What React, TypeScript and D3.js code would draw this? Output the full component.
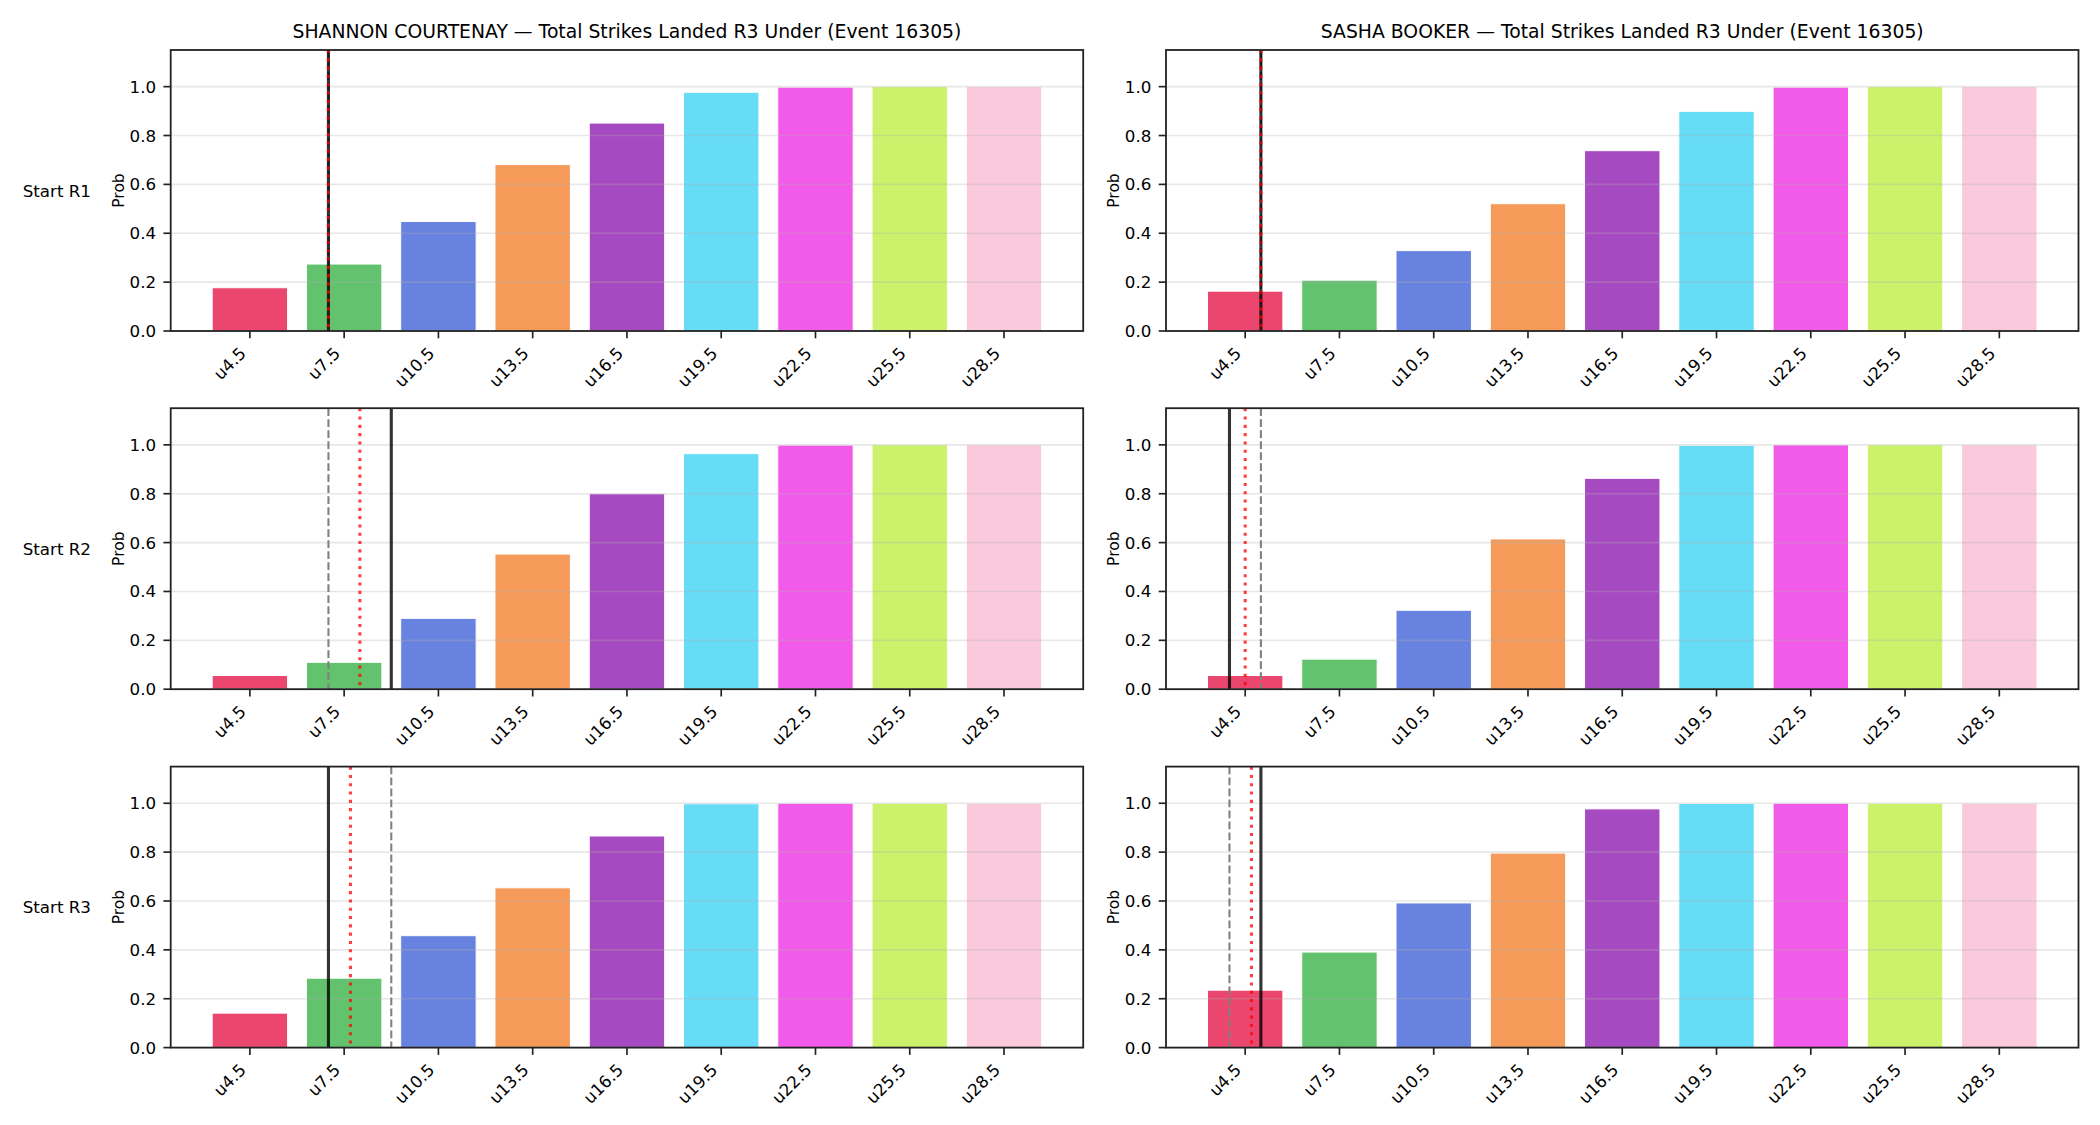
import * as d3 from 'd3';

// Under-line thresholds along the x axis
const thresholds = ['u4.5', 'u7.5', 'u10.5', 'u13.5', 'u16.5', 'u19.5', 'u22.5', 'u25.5', 'u28.5'];
const lineValues = [4.5, 7.5, 10.5, 13.5, 16.5, 19.5, 22.5, 25.5, 28.5];

const fighters = ['SHANNON COURTENAY', 'SASHA BOOKER'];
const startRounds = ['Start R1', 'Start R2', 'Start R3'];
const eventId = 16305;

// P(under) per threshold, one array per fighter / start round
const courtenayR1 = [0.177, 0.274, 0.448, 0.681, 0.851, 0.977, 0.998, 1.0, 1.0];
const courtenayR2 = [0.056, 0.11, 0.29, 0.553, 0.8, 0.964, 0.999, 1.0, 1.0];
const courtenayR3 = [0.141, 0.284, 0.458, 0.654, 0.866, 0.998, 1.0, 1.0, 1.0];
const bookerR1 = [0.163, 0.208, 0.329, 0.521, 0.738, 0.899, 0.998, 1.0, 1.0];
const bookerR2 = [0.056, 0.123, 0.323, 0.615, 0.863, 0.998, 1.0, 1.0, 1.0];
const bookerR3 = [0.235, 0.391, 0.592, 0.796, 0.977, 0.999, 1.0, 1.0, 1.0];

// Reference markers in strike units: [courtenay R1..R3], [booker R1..R3]
const solidMarks = [[7, 9, 7], [5, 4, 5]];
const dashedMarks = [[7, 7, 9], [5, 5, 4]];
const dottedMarks = [[7, 8, 7.7], [5, 4.5, 4.7]];

const yTicks = [0, 0.2, 0.4, 0.6, 0.8, 1.0];

const barColors = ['#e6194b', '#3cb44b', '#4363d8', '#f58231', '#911eb4', '#42d4f4', '#f032e6', '#bfef45', '#fabed4'];

const probs = [
  [courtenayR1, courtenayR2, courtenayR3],
  [bookerR1, bookerR2, bookerR3],
];

const W = 2100;
const H = 1125;
const colLeft = [170.7, 1166];
const rowTop = [50, 408.2, 766.6];
const axW = 912.5;
const axH = 281;
const font = 'DejaVu Sans, sans-serif';
const tickFs = 16.7;

function Panel({ col, row }: { col: number; row: number }) {
  const values = probs[col][row];
  const x = d3.scaleLinear().domain([-0.84, thresholds.length - 1 + 0.84]).range([0, axW]);
  const y = d3.scaleLinear().domain([0, 1.15]).range([axH, 0]);
  const toIndex = d3.scaleLinear().domain([lineValues[0], lineValues[lineValues.length - 1]]).range([0, thresholds.length - 1]);
  const barW = x(0.4) - x(-0.4);

  const solid = x(toIndex(solidMarks[col][row]));
  const dashed = x(toIndex(dashedMarks[col][row]));
  const dotted = x(toIndex(dottedMarks[col][row]));

  return (
    <g transform={`translate(${colLeft[col]},${rowTop[row]})`}>
      {values.map((v, i) => (
        <rect
          key={thresholds[i]}
          x={x(i) - barW / 2}
          y={y(v)}
          width={barW}
          height={axH - y(v)}
          fill={barColors[i]}
          stroke="#fff"
          strokeWidth={1}
          opacity={0.8}
        />
      ))}
      {yTicks.map((t) => (
        <line key={t} x1={0} x2={axW} y1={y(t)} y2={y(t)} stroke="#b0b0b0" strokeOpacity={0.3} strokeWidth={1.67} />
      ))}
      <line x1={dashed} x2={dashed} y1={0} y2={axH} stroke="#808080" strokeWidth={2.08} strokeDasharray="7.7 3.3" />
      <line x1={solid} x2={solid} y1={0} y2={axH} stroke="#000" strokeOpacity={0.8} strokeWidth={3.1} />
      <line x1={dotted} x2={dotted} y1={0} y2={axH} stroke="#ff0000" strokeOpacity={0.75} strokeWidth={3.1} strokeDasharray="3.1 5.2" />
      <rect x={0} y={0} width={axW} height={axH} fill="none" stroke="#222" strokeWidth={1.8} />
      {yTicks.map((t) => (
        <g key={t} transform={`translate(0,${y(t)})`}>
          <line x1={-7.3} x2={0} stroke="#222" strokeWidth={1.67} />
          <text x={-14.6} dominantBaseline="central" textAnchor="end" fontSize={tickFs} fontFamily={font} fill="#000">
            {d3.format('.1f')(t)}
          </text>
        </g>
      ))}
      {thresholds.map((label, i) => (
        <g key={label}>
          <line x1={x(i)} x2={x(i)} y1={axH} y2={axH + 7.3} stroke="#222" strokeWidth={1.67} />
          <text
            transform={`translate(${x(i) - 2.8},${axH + 23.5}) rotate(-45)`}
            textAnchor="end"
            fontSize={tickFs}
            fontFamily={font}
            fill="#000"
          >
            {label}
          </text>
        </g>
      ))}
      <text
        transform={`translate(${-47},${axH / 2}) rotate(-90)`}
        textAnchor="middle"
        fontSize={15.5}
        fontFamily={font}
        fill="#000"
      >
        Prob
      </text>
      {row === 0 && (
        <text x={axW / 2} y={-12.5} textAnchor="middle" fontSize={18.8} fontFamily={font} fill="#000">
          {`${fighters[col]} — Total Strikes Landed R3 Under (Event ${eventId})`}
        </text>
      )}
    </g>
  );
}

export default function App() {
  return (
    <svg
      width={W}
      height={H}
      viewBox={`0 0 ${W} ${H}`}
      style={{ position: 'absolute', left: 0, top: 0, background: '#fff' }}
    >
      <rect width={W} height={H} fill="#fff" />
      {startRounds.map((label, r) => (
        <text
          key={label}
          x={91}
          y={rowTop[r] + axH / 2}
          dominantBaseline="central"
          textAnchor="end"
          fontSize={16.7}
          fontFamily={font}
          fill="#000"
        >
          {label}
        </text>
      ))}
      {[0, 1].map((c) => [0, 1, 2].map((r) => <Panel key={`${c}-${r}`} col={c} row={r} />))}
    </svg>
  );
}
